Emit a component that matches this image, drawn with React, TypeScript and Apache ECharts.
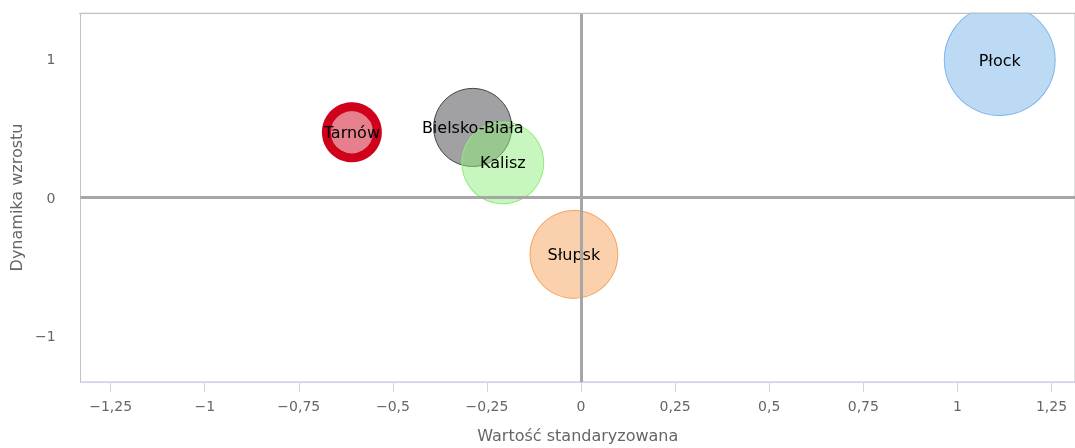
import React, { useEffect, useRef } from "react";
import * as echarts from "echarts";

const cities = ["Tarnów", "Bielsko-Biała", "Kalisz", "Słupsk", "Płock"];
const xValues = [-0.609, -0.288, -0.208, -0.019, 1.1125];
const yValues = [0.47, 0.505, 0.25, -0.41, 0.99];
const zValues = [26, 61, 67, 77, 123];
const colors = ["#d0021b", "#434348", "#90ed7d", "#f7a35c", "#7cb5ec"];
const xTicks = [-1.25, -1, -0.75, -0.5, -0.25, 0, 0.25, 0.5, 0.75, 1, 1.25];
const yTicks = [-1, 0, 1];

const fmt = (v: number) => {
  const s = String(Math.abs(v)).replace(".", ",");
  return v < 0 ? "\u2212" + s : s;
};

function hexA(hex: string, a: number) {
  const n = parseInt(hex.slice(1), 16);
  return `rgba(${(n >> 16) & 255},${(n >> 8) & 255},${n & 255},${a})`;
}

export default function App() {
  const ref = useRef<HTMLDivElement>(null);
  useEffect(() => {
    if (!ref.current) return;
    const chart = echarts.init(ref.current, undefined, { renderer: "svg" });
    const font = "DejaVu Sans, Verdana, sans-serif";
    const bubbleSeries = cities.map((c, i) => ({
      type: "scatter",
      name: c,
      z: 3,
      clip: false,
      data: [[xValues[i], yValues[i], zValues[i]]],
      symbolSize: (d: number[]) => 10 * Math.sqrt(d[2]),
      itemStyle: {
        color: hexA(colors[i], 0.5),
        borderColor: colors[i],
        borderWidth: i === 0 ? 9 : 1,
        opacity: 1,
      },
      label: {
        show: true,
        position: "inside",
        formatter: c,
        color: "#000",
        fontFamily: font,
        fontSize: 16,
      },
    }));
    chart.setOption({
      animation: false,
      grid: {
        left: 79,
        right: 0,
        top: 13,
        bottom: 65,
        show: true,
        borderColor: "#c0c0c0",
        borderWidth: 1,
      },
      xAxis: {
        type: "value",
        min: -1.33,
        max: 1.3125,
        name: "Wartość standaryzowana",
        nameLocation: "middle",
        nameGap: 45,
        nameTextStyle: { color: "#666", fontFamily: font, fontSize: 16 },
        axisLine: { show: true, onZero: false, lineStyle: { color: "#ccd6eb", width: 1 } },
        axisTick: { show: true, length: 10, customValues: xTicks, lineStyle: { color: "#ccd6eb" } },
        axisLabel: {
          customValues: xTicks,
          formatter: fmt,
          color: "#666",
          fontFamily: font,
          fontSize: 14,
          margin: 17,
        },
        splitLine: { show: false },
      },
      yAxis: {
        type: "value",
        min: -1.33,
        max: 1.33,
        name: "Dynamika wzrostu",
        nameLocation: "middle",
        nameGap: 56,
        nameTextStyle: { color: "#666", fontFamily: font, fontSize: 16 },
        axisLine: { show: false },
        axisTick: { show: false },
        axisLabel: {
          customValues: yTicks,
          formatter: fmt,
          color: "#666",
          fontFamily: font,
          fontSize: 14,
          margin: 25,
        },
        splitLine: { show: false },
      },
      series: [
        {
          type: "scatter",
          z: 1,
          data: [],
          markLine: {
            silent: true,
            symbol: "none",
            label: { show: false },
            lineStyle: { color: "#a6a6a6", width: 3, type: "solid" },
            data: [{ xAxis: 0 }, { yAxis: 0 }],
          },
        },
        ...bubbleSeries,
      ],
      graphic: [
        {
          type: "rect",
          z: 100,
          shape: { x: 0, y: 0, width: 1075, height: 12.5 },
          style: { fill: "#fff" },
        },
        {
          type: "line",
          z: 101,
          shape: { x1: 79, y1: 13.5, x2: 1075, y2: 13.5 },
          style: { stroke: "#c0c0c0", lineWidth: 1 },
        },
      ],
    });
    return () => chart.dispose();
  }, []);
  return (
    <div
      ref={ref}
      style={{ position: "fixed", left: 0, top: 0, width: 1075, height: 448 }}
    />
  );
}
